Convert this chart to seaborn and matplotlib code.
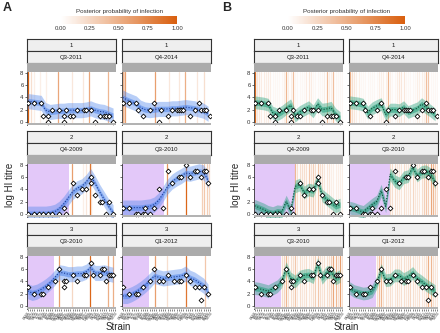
import numpy as np
import pandas as pd
import matplotlib
matplotlib.use("Agg")
import matplotlib.pyplot as plt
import seaborn as sns
from matplotlib.colors import LinearSegmentedColormap, Normalize
from matplotlib.cm import ScalarMappable

sns.set_theme(style="ticks")
plt.rcParams['font.family'] = ['Liberation Sans', 'DejaVu Sans']

# ---- data ----
strains = ["HK68", "BI69", "EN72", "PC73", "HK73", "VI75", "TX77", "BK79", "PH82", "SI87",
           "BE89", "SD89", "BE92", "GU95", "WU95", "NA95", "SY97", "MS99", "PA99", "FU02",
           "KU03", "CA04", "WE05", "WI05", "NE05", "HK07", "BR07", "UR07", "PE09", "VI09",
           "HK10", "VI11", "TX12", "SW13", "NE13", "HK13", "HK14", "ST14", "SW14", "NE14"]

ids = ["1", "1", "2", "2", "3", "3"]
dates = ["Q3-2011", "Q4-2014", "Q4-2009", "Q3-2010", "Q3-2010", "Q1-2012"]

x_p1 = [0, 3, 6, 7, 9, 9, 11, 14, 16, 16, 17, 19, 20, 22, 25, 26, 28, 30, 32, 34, 35, 36, 38]
titre_p1 = [3, 3, 3, 1, 1, 0, 2, 2, 1, 0, 2, 1, 1, 2, 2, 2, 2, 0, 1, 1, 1, 1, 0]
x_p2 = [0, 3, 6, 7, 9, 12, 14, 16, 17, 20, 22, 24, 25, 26, 27, 30, 32, 34, 35, 36, 37, 39]
titre_p2 = [3, 3, 3, 2, 1, 2, 3, 0, 2, 1, 2, 2, 2, 2, 2, 1, 2, 3, 2, 2, 2, 1]
x_p3 = [0, 3, 5, 7, 9, 11, 14, 16, 17, 20, 22, 24, 26, 28, 28, 30, 32, 33, 35, 36, 38]
titre_p3 = [0, 0, 0, 0, 0, 0, 0, 1, 0, 5, 3, 4, 4, 5, 6, 3, 2, 2, 0, 2, 0]
x_p4 = [0, 3, 6, 7, 9, 10, 10, 12, 14, 16, 18, 20, 22, 25, 26, 28, 30, 32, 33, 35, 36, 37, 38]
titre_p4 = [1, 1, 0, 0, 0, 0, 1, 0, 1, 4, 1, 7, 5, 6, 6, 8, 6, 7, 7, 6, 7, 7, 5]
x_p5 = [0, 3, 6, 7, 9, 12, 14, 16, 16, 17, 20, 22, 25, 26, 28, 29, 32, 33, 34, 35, 36, 37, 38]
titre_p5 = [3, 2, 2, 2, 3, 4, 6, 3, 4, 4, 5, 4, 5, 5, 7, 5, 5, 6, 6, 4, 5, 5, 5]
x_p6 = [0, 3, 6, 7, 9, 12, 14, 16, 18, 20, 23, 25, 26, 28, 30, 32, 34, 35, 36, 38]
titre_p6 = [3, 2, 2, 2, 3, 4, 6, 4, 4, 5, 4, 4, 4, 5, 4, 3, 3, 1, 3, 2]

fit_x = [0, 2, 4, 6, 8, 10, 12, 14, 16, 18, 20, 22, 24, 26, 28, 30, 32, 34, 36, 38]
fitA_p1 = [3.4, 3.3, 3.2, 3.1, 1.9, 1.6, 1.7, 1.8, 1.8, 1.9, 1.9, 1.9, 1.9, 2.0, 2.2, 1.9, 1.7, 1.6, 1.3, 1.0]
fitA_p2 = [4.0, 3.6, 3.3, 3.0, 2.3, 2.0, 1.9, 2.0, 2.1, 2.1, 2.1, 2.2, 2.2, 2.3, 2.4, 2.3, 2.2, 2.0, 1.8, 1.3]
fitA_p3 = [0, 0, 0, 0, 0, 0.1, 0.3, 0.8, 1.6, 2.6, 3.6, 4.2, 4.5, 5.2, 6.2, 5.0, 3.6, 2.4, 1.2, 0.2]
fitA_p4 = [1.0, 1.0, 1.0, 1.0, 1.0, 1.1, 1.2, 1.5, 2.2, 3.3, 4.5, 5.3, 5.8, 6.2, 6.7, 6.6, 6.8, 7.0, 6.8, 5.5]
fitA_p5 = [2.4, 2.1, 2.3, 2.7, 3.2, 3.8, 4.6, 5.5, 5.4, 5.2, 5.2, 5.3, 5.3, 5.6, 6.3, 5.4, 5.4, 5.5, 5.3, 5.1]
fitA_p6 = [1.6, 1.6, 1.9, 2.3, 2.8, 3.4, 4.1, 4.9, 4.7, 4.5, 4.6, 4.7, 4.8, 4.9, 5.3, 4.6, 4.3, 3.8, 3.3, 2.3]

fitB_p1 = [3.2, 3.1, 3.0, 2.8, 1.5, 1.2, 1.6, 2.2, 2.7, 1.0, 1.6, 2.0, 2.4, 1.7, 2.9, 2.0, 2.1, 2.3, 1.2, 0.6]
fitB_p2 = [3.2, 3.1, 3.0, 2.8, 1.5, 2.2, 2.6, 2.9, 1.2, 2.0, 2.0, 1.9, 2.4, 1.6, 1.9, 2.2, 2.9, 2.3, 1.8, 1.2]
fitB_p3 = [1.3, 1.0, 0.7, 0.3, 0.1, 0.4, 0.3, 2.0, 0.5, 4.5, 4.8, 3.5, 4.0, 3.8, 5.6, 3.0, 2.4, 1.8, 1.2, 1.5]
fitB_p4 = [1.0, 0.8, 0.5, 0.3, 0.9, 1.5, 2.0, 3.8, 1.2, 6.5, 5.4, 5.0, 6.0, 6.2, 7.6, 6.3, 6.9, 7.0, 6.5, 5.2]
fitB_p5 = [2.9, 2.8, 2.6, 2.4, 2.8, 3.2, 4.0, 6.2, 4.5, 4.0, 4.8, 5.0, 5.1, 4.7, 6.9, 4.6, 5.5, 5.6, 4.5, 4.9]
fitB_p6 = [2.9, 2.4, 2.2, 2.0, 2.1, 2.4, 3.8, 5.9, 4.2, 4.3, 5.0, 5.0, 4.4, 4.8, 5.4, 4.5, 4.0, 3.4, 2.9, 2.4]

A_inner, A_outer = 0.45, 1.25
B_inner, B_outer = 0.45, 1.05

# region before birth (strain index), None if born before first strain
unborn = [None, None, 18.2, 18.2, 11.6, 11.8]

# model A: infection times (strain index) and posterior probability
infA_pos = [[0, 1.3, 2.8, 5.7, 8, 13.7, 19.6, 24.7, 27.3, 35.6],
            [0, 0.7, 1.2, 14.2, 20.5, 25, 27.9, 33, 36],
            [19.6, 24.5, 25.8, 27.6, 28.3],
            [19.8, 28.1, 35.2, 36.2, 37.3, 38.2],
            [13.8, 19.6, 27.9, 35.6, 37.9],
            [14.2, 19.8, 28.2, 36.8]]
infA_prob = [[1.0, 0.2, 0.1, 0.1, 0.1, 0.55, 0.15, 0.15, 0.55, 0.45],
             [0.5, 0.25, 0.6, 0.6, 0.15, 0.15, 0.5, 0.15, 0.2],
             [0.6, 0.1, 0.15, 0.95, 0.2],
             [0.65, 0.95, 0.3, 0.35, 0.3, 0.25],
             [0.6, 0.25, 0.95, 0.5, 0.5],
             [0.6, 0.2, 0.85, 0.35]]

# model B: posterior probability of infection at each strain index
infB_p1 = [0.9, 0.15, 0.15, 0.12, 0.12, 0.1, 0.12, 0.1, 0.05, 0.05, 0.05, 0.05, 0.05, 0.1, 0.45, 0.1, 0.1, 0.4, 0.05, 0.05,
           0.05, 0.05, 0.05, 0.12, 0.15, 0.12, 0.05, 0.05, 0.05, 0.05, 0.05, 0.1, 0.4, 0.1, 0.1, 0.4, 0.05, 0.05, 0.05, 0.05]
infB_p2 = [0.5, 0.2, 0.15, 0.1, 0.1, 0.05, 0.05, 0.05, 0.05, 0.05, 0.05, 0.05, 0.05, 0.1, 0.1, 0.1, 0.1, 0.45, 0.1, 0.05,
           0.05, 0.1, 0.15, 0.15, 0.15, 0.05, 0.05, 0.05, 0.05, 0.05, 0.1, 0.1, 0.1, 0.1, 0.4, 0.35, 0.05, 0.05, 0.05, 0.05]
infB_p3 = [0] * 18 + [0.45, 0.2, 0.2, 0.2, 0.2, 0.2, 0.35, 0.2, 0.3, 0.2, 0.35, 0.2, 0.2, 0.15, 0.15, 0.15, 0.1, 0.1,
                      0.1, 0.1, 0.1, 0.1]
infB_p4 = [0] * 18 + [0.2, 0.2, 0.2, 0.15, 0.15, 0.15, 0.2, 0.15, 0.15, 0.2, 0.25, 0.15, 0.15, 0.15, 0.2, 0.3, 0.35,
                      0.3, 0.55, 0.45, 0.3, 0.2]
infB_p5 = [0] * 12 + [0.2, 0.25, 0.45, 0.2, 0.2, 0.2, 0.35, 0.15, 0.2, 0.15, 0.15, 0.2, 0.15, 0.15, 0.2, 0.3, 0.35,
                      0.2, 0.15, 0.2, 0.2, 0.2, 0.3, 0.55, 0.45, 0.2, 0.6, 0.2]
infB_p6 = [0] * 12 + [0.2, 0.4, 0.45, 0.2, 0.2, 0.15, 0.2, 0.15, 0.15, 0.2, 0.15, 0.2, 0.2, 0.15, 0.2, 0.25, 0.2,
                      0.15, 0.15, 0.2, 0.15, 0.15, 0.2, 0.5, 0.45, 0.2, 0.15, 0.15]

obs_x = [x_p1, x_p2, x_p3, x_p4, x_p5, x_p6]
obs_t = [titre_p1, titre_p2, titre_p3, titre_p4, titre_p5, titre_p6]
fitsA = [fitA_p1, fitA_p2, fitA_p3, fitA_p4, fitA_p5, fitA_p6]
fitsB = [fitB_p1, fitB_p2, fitB_p3, fitB_p4, fitB_p5, fitB_p6]
infB = [infB_p1, infB_p2, infB_p3, infB_p4, infB_p5, infB_p6]

# ---- figure ----
W, H = 440, 333
fig = plt.figure(figsize=(W / 100, H / 100), dpi=100)
cmap = LinearSegmentedColormap.from_list("inf", ["#ffffff", "#d95f0e"])


def box(x0, y0, x1, y1):
    return [x0 / W, 1 - y1 / H, (x1 - x0) / W, (y1 - y0) / H]


def strip(rect, text, fc, border=True):
    s = fig.add_axes(rect)
    s.set_facecolor(fc)
    s.set_xticks([])
    s.set_yticks([])
    for sp in s.spines.values():
        sp.set_visible(border)
        sp.set_color("#333333")
        sp.set_linewidth(0.8)
    if text:
        s.text(0.5, 0.45, text, ha="center", va="center", fontsize=4.3, color="#1a1a1a")


def draw_model(x_left, fits, inner, outer, col, line_col, model):
    cols = [(x_left, x_left + 89), (x_left + 95, x_left + 184)]
    for i in range(6):
        r, c = divmod(i, 2)
        off = 92 * r
        cx0, cx1 = cols[c]
        strip(box(cx0, 39 + off, cx1, 51 + off), ids[i], "#efefef")
        strip(box(cx0, 51 + off, cx1, 63 + off), dates[i], "#efefef")
        strip(box(cx0, 63 + off, cx1, 72 + off), "", "#ababab", border=False)
        ax = fig.add_axes(box(cx0, 72 + off, cx1, 125 + off))
        ax.set_xlim(-0.3, 39.3)
        ax.set_ylim(-0.55, 8.2)
        if unborn[i] is not None:
            ax.axvspan(-0.3, unborn[i], color="#e3c8f9", lw=0, zorder=0)
        if model == "A":
            for p, pr in zip(infA_pos[i], infA_prob[i]):
                ax.axvline(p, color=cmap(pr), lw=0.9, zorder=1)
        else:
            for p, pr in enumerate(infB[i]):
                if pr > 0:
                    ax.axvline(p, color=cmap(pr), lw=0.9, zorder=1)
        m = np.array(fits[i])
        ax.fill_between(fit_x, m - outer, m + outer, color=col, alpha=0.4, lw=0, zorder=2)
        ax.fill_between(fit_x, m - inner, m + inner, color=col, alpha=0.55, lw=0, zorder=3)
        sns.lineplot(x=fit_x, y=m, ax=ax, color=line_col, lw=0.8, linestyle=(0, (1, 1.5)), zorder=4)
        df = pd.DataFrame({"strain": obs_x[i], "titre": obs_t[i]})
        sns.scatterplot(data=df, x="strain", y="titre", ax=ax, marker="D", s=6, color="white",
                        edgecolor="black", linewidth=0.6, zorder=5, legend=False)
        ax.axhspan(-0.55, -0.22, color="#b3b3b3", lw=0, zorder=6)
        ax.set_yticks([0, 2, 4, 6, 8])
        ax.tick_params(axis="y", labelsize=4.3, length=1.5, width=0.5, pad=1, colors="#333333")
        ax.set_xlabel("")
        ax.set_ylabel("")
        for sp in ["top", "right", "bottom"]:
            ax.spines[sp].set_visible(False)
        ax.spines["left"].set_color("#333333")
        ax.spines["left"].set_linewidth(0.6)
        if c == 1:
            ax.set_yticklabels([])
        if r == 2:
            ax.set_xticks(range(len(strains)))
            ax.set_xticklabels(strains, rotation=55, ha="right", rotation_mode="anchor",
                               fontsize=2.6, color="#4d4d4d")
            ax.tick_params(axis="x", length=1.2, width=0.4, pad=0.5)
        else:
            ax.set_xticks([])


def draw_colorbar(x0, x1):
    cax = fig.add_axes(box(x0, 16, x1, 24))
    cb = fig.colorbar(ScalarMappable(norm=Normalize(0, 1), cmap=cmap), cax=cax, orientation="horizontal")
    cb.outline.set_visible(False)
    cb.set_ticks([0, 0.25, 0.5, 0.75, 1.0])
    cb.set_ticklabels(["0.00", "0.25", "0.50", "0.75", "1.00"])
    cax.tick_params(labelsize=4.3, length=0, pad=1.5, colors="#333333")
    fig.text((x0 + x1) / 2 / W, 1 - 11 / H, "Posterior probability of infection",
             ha="center", va="center", fontsize=4.5, color="#333333")


draw_model(27, fitsA, A_inner, A_outer, "#4f86ec", "#1c3c94", "A")
draw_model(254, fitsB, B_inner, B_outer, "#1b9e77", "#0b4a35", "B")
draw_colorbar(61, 177)
draw_colorbar(288, 405)

fig.text(3 / W, 1 - 8 / H, "A", fontsize=9, fontweight="bold", va="center")
fig.text(222 / W, 1 - 8 / H, "B", fontsize=9, fontweight="bold", va="center")
fig.text(10 / W, 1 - 185 / H, "log HI titre", rotation=90, fontsize=7, ha="center", va="center")
fig.text(236 / W, 1 - 185 / H, "log HI titre", rotation=90, fontsize=7, ha="center", va="center")
fig.text(118 / W, 1 - 327 / H, "Strain", fontsize=7, ha="center", va="center")
fig.text(346 / W, 1 - 327 / H, "Strain", fontsize=7, ha="center", va="center")

fig.savefig("out.png", dpi=100)
